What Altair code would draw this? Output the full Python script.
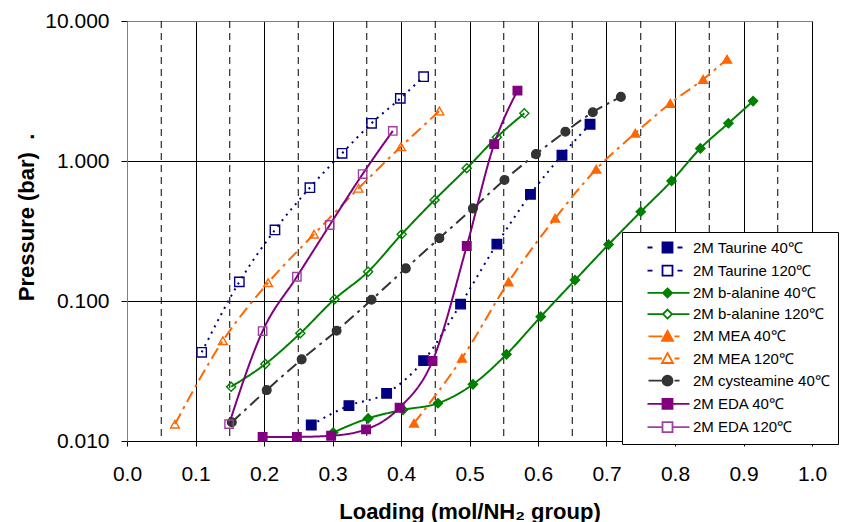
import altair as alt
import pandas as pd

# ---------------- data ----------------
series_names = [
    "2M Taurine 40℃", "2M Taurine 120℃", "2M b-alanine 40℃", "2M b-alanine 120℃",
    "2M MEA 40℃", "2M MEA 120℃", "2M cysteamine 40℃", "2M EDA 40℃", "2M EDA 120℃",
]

taurine40_x = [0.269, 0.324, 0.379, 0.433, 0.487, 0.540, 0.589, 0.635, 0.676]
taurine40_y = [0.0130, 0.0179, 0.0219, 0.0375, 0.095, 0.255, 0.578, 1.10, 1.83]

taurine120_x = [0.109, 0.164, 0.216, 0.267, 0.314, 0.357, 0.399, 0.433]
taurine120_y = [0.043, 0.137, 0.322, 0.645, 1.135, 1.86, 2.80, 4.0]

balanine40_x = [0.301, 0.352, 0.403, 0.454, 0.505, 0.554, 0.604, 0.654, 0.703, 0.750, 0.795, 0.837, 0.878, 0.914]
balanine40_y = [0.0115, 0.0145, 0.0167, 0.0186, 0.0254, 0.0416, 0.0773, 0.141, 0.253, 0.434, 0.720, 1.23, 1.86, 2.68]

balanine120_x = [0.152, 0.202, 0.253, 0.303, 0.352, 0.401, 0.449, 0.496, 0.540, 0.580]
balanine120_y = [0.0244, 0.0355, 0.0588, 0.103, 0.162, 0.300, 0.527, 0.887, 1.48, 2.19]

mea40_x = [0.419, 0.489, 0.557, 0.625, 0.685, 0.742, 0.793, 0.841, 0.876]
mea40_y = [0.0134, 0.039, 0.137, 0.39, 0.873, 1.58, 2.58, 3.83, 5.33]

mea120_x = [0.070, 0.140, 0.206, 0.273, 0.338, 0.400, 0.456]
mea120_y = [0.0132, 0.052, 0.135, 0.300, 0.638, 1.265, 2.275]

cysteamine40_x = [0.153, 0.204, 0.255, 0.306, 0.357, 0.407, 0.456, 0.505, 0.551, 0.597, 0.640, 0.680, 0.721]
cysteamine40_y = [0.0136, 0.0231, 0.0383, 0.0613, 0.102, 0.171, 0.281, 0.459, 0.732, 1.12, 1.62, 2.23, 2.87]

eda40_x = [0.198, 0.248, 0.298, 0.349, 0.398, 0.446, 0.496, 0.536, 0.570]
eda40_y = [0.0107, 0.0107, 0.0109, 0.0121, 0.0173, 0.0373, 0.247, 1.32, 3.18]

eda120_x = [0.149, 0.198, 0.248, 0.296, 0.344, 0.388]
eda120_y = [0.0132, 0.061, 0.149, 0.349, 0.807, 1.64]

x_ticks = [0.0, 0.1, 0.2, 0.3, 0.4, 0.5, 0.6, 0.7, 0.8, 0.9, 1.0]
dashed_x = [0.05, 0.15, 0.25, 0.35, 0.45, 0.55, 0.65, 0.75, 0.85, 0.95]
y_ticks = [0.01, 0.1, 1, 10]

# ---------------- styles ----------------
line_colors = ["#000080", "#000080", "#008000", "#008000", "#FF6600", "#FF6600", "#333333", "#800080", "#800080"]
marker_colors = ["#000080", "#000080", "#008000", "#008000", "#FF6600", "#FF6600", "#333333", "#800080", "#A040A0"]
fill_colors = ["#000080", "transparent", "#008000", "transparent", "#FF6600", "transparent", "#333333", "#800080", "transparent"]
shapes = ["square", "square", "diamond", "diamond", "triangle-up", "triangle-up", "circle", "square", "square"]
sizes = [90, 70, 60, 50, 90, 90, 95, 90, 80]
dashes = [[2, 5], [2, 5], [1, 0], [1, 0], [12, 5, 3, 5], [12, 5, 3, 5], [12, 5, 3, 5], [1, 0], [1, 0]]

SQ = "M-1,-1H1V1H-1Z"
DI = "M0,-0.9L0.9,0L0,0.9L-0.9,0Z"
TR = "M0,-1.1L1.1,0.9H-1.1Z"
CI = "M1,0A1,1,0,1,1,-1,0A1,1,0,1,1,1,0Z"
legend_paths = [
    "M-4,0H-3M2,0H3" + SQ,
    "M-4,0H-3M2,0H3" + SQ,
    "M-4,0H4.4" + DI,
    "M-4,0H-0.9M0.9,0H4.4" + DI,
    "M-3.8,0H-1M1.4,0H2.4" + TR,
    "M-3.8,0H-1.1M1.4,0H2.4" + TR,
    "M-3.8,0H-1M1.4,0H2.4" + CI,
    "M-4,0H4.4" + SQ,
    "M-4,0H-1M1,0H4.4" + SQ,
]

all_x = [taurine40_x, taurine120_x, balanine40_x, balanine120_x, mea40_x, mea120_x,
         cysteamine40_x, eda40_x, eda120_x]
all_y = [taurine40_y, taurine120_y, balanine40_y, balanine120_y, mea40_y, mea120_y,
         cysteamine40_y, eda40_y, eda120_y]

rows = []
for name, xs, ys in zip(series_names, all_x, all_y):
    for i, (xv, yv) in enumerate(zip(xs, ys)):
        rows.append({"series": name, "x": xv, "y": yv, "idx": i})
df = pd.DataFrame(rows)
dash_df = pd.DataFrame({"x": dashed_x})

FONT = "Liberation Sans"

x_enc = alt.X(
    "x:Q",
    scale=alt.Scale(domain=[0, 1], nice=False, zero=False),
    axis=alt.Axis(
        values=x_ticks, format=".1f", title="Loading (mol/NH₂ group)",
        grid=True, labelFlush=False,
        gridColor={"condition": {"test": "datum.value <= 0", "value": "#808080"}, "value": "black"},
        gridOpacity=1, gridWidth=1,
        domainColor="black", domainWidth=1, tickColor="black", tickSize=5,
        labelFont=FONT, labelFontSize=21, labelColor="black", labelPadding=17,
        titleFont=FONT, titleFontSize=22, titleFontWeight="bold", titleColor="black",
        titleBaseline="alphabetic", titleY=77,
    ),
)
y_enc = alt.Y(
    "y:Q",
    scale=alt.Scale(type="log", domain=[0.01, 10], nice=False),
    axis=alt.Axis(
        values=y_ticks, format=".3f", title="Pressure (bar)\u00a0\u00a0.",
        grid=True, labelFlush=False,
        gridColor={"condition": {"test": "datum.value >= 10", "value": "#808080"}, "value": "black"},
        gridOpacity=1, gridWidth=1,
        domainColor="#808080", domainWidth=1, tickColor="black", tickSize=6,
        labelFont=FONT, labelFontSize=21, labelColor="black", labelPadding=12,
        titleFont=FONT, titleFontSize=22, titleFontWeight="bold", titleColor="black",
        titleAngle=270, titleAlign="center", titleBaseline="alphabetic",
        titleX=-94, titleY=196,
    ),
)

rules = alt.Chart(dash_df).mark_rule(color="black", strokeWidth=1, strokeDash=[7, 5]).encode(x=x_enc)

lines = alt.Chart(df).mark_line(interpolate="monotone", strokeWidth=2).encode(
    x=x_enc, y=y_enc,
    stroke=alt.Stroke("series:N", scale=alt.Scale(domain=series_names, range=line_colors), legend=None),
    strokeDash=alt.StrokeDash("series:N", scale=alt.Scale(domain=series_names, range=dashes), legend=None),
    detail="series:N",
    order="idx:Q",
)

points = alt.Chart(df).mark_point(filled=True, opacity=1, strokeWidth=1.4).encode(
    x=x_enc, y=y_enc,
    stroke=alt.Stroke("series:N", scale=alt.Scale(domain=series_names, range=marker_colors), legend=None),
    fill=alt.Fill("series:N", scale=alt.Scale(domain=series_names, range=fill_colors), legend=None),
    shape=alt.Shape("series:N", scale=alt.Scale(domain=series_names, range=shapes), legend=None),
    size=alt.Size("series:N", scale=alt.Scale(domain=series_names, range=sizes), legend=None),
)

leg = alt.Legend(
    orient="none", legendX=495, legendY=211, title=None,
    padding=8, fillColor="white", strokeColor="black", cornerRadius=0,
    labelFont=FONT, labelFontSize=15, labelColor="black", labelLimit=400,
    symbolSize=100, symbolStrokeWidth=1.8, symbolOpacity=1,
    symbolOffset=30, labelOffset=18, rowPadding=4.2,
)

legend_layer = alt.Chart(df).mark_point(filled=True, opacity=0).encode(
    x=x_enc, y=y_enc,
    stroke=alt.Stroke("series:N", scale=alt.Scale(domain=series_names, range=marker_colors), legend=leg),
    fill=alt.Fill("series:N", scale=alt.Scale(domain=series_names, range=fill_colors), legend=leg),
    shape=alt.Shape("series:N", scale=alt.Scale(domain=series_names, range=legend_paths), legend=leg),
)

chart = alt.layer(rules, lines, points, legend_layer).resolve_scale(
    stroke="independent", fill="independent", shape="independent",
    size="independent", strokeDash="independent",
).properties(
    width=685, height=420,
    autosize=alt.AutoSizeParams(type="none"),
    padding={"left": 119, "top": 13, "right": 28, "bottom": 90},
    background="white",
).configure_view(stroke="#808080", strokeWidth=1)

chart.save("out.html", embed_options={"renderer": "svg", "actions": False})
